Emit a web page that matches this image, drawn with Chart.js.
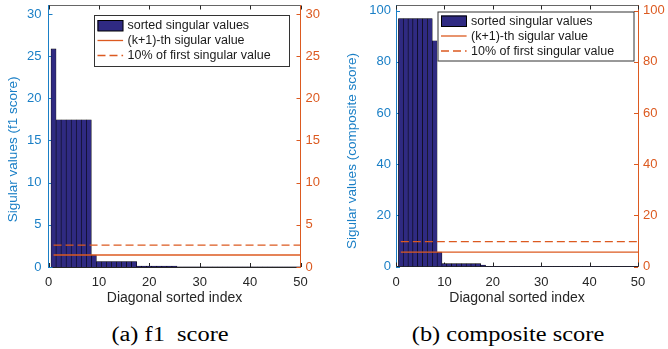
<!DOCTYPE html>
<html>
<head>
<meta charset="utf-8">
<script src="https://cdn.jsdelivr.net/npm/chart.js@4.4.0/dist/chart.umd.min.js"></script>
<style>
body { margin: 0; background: #fff; width: 668px; height: 349px; position: relative; overflow: hidden; }
.panel { position: absolute; top: 0; width: 334px; height: 310px; }
.caption { position: absolute; top: 324px; font-family: "Liberation Serif", "Times New Roman", serif; font-size: 20px; line-height: 20px; color: #000; white-space: pre; transform: translateX(-50%) scaleX(1.22); }
</style>
</head>
<body>
<div class="panel" style="left:0"><canvas id="chartA"></canvas></div>
<div class="panel" style="left:334px"><canvas id="chartB"></canvas></div>
<div class="caption" style="left:170px">(a) f1  score</div>
<div class="caption" style="left:508px">(b) composite score</div>
<script>
// diagonal index 1..50
var sortedIndex = [];
for (var i = 1; i <= 50; i++) sortedIndex.push(i);

var f1Singular = [25.86, 17.45, 17.45, 17.45, 17.45, 17.45, 17.45, 17.45, 1.42,
    0.65, 0.65, 0.65, 0.65, 0.65, 0.65, 0.65, 0.65,
    0.1, 0.1, 0.1, 0.1, 0.1, 0.1, 0.1, 0.1,
    0.01, 0.01, 0.01, 0.01, 0.01, 0.01, 0.01, 0.01, 0.01, 0.01,
    0.01, 0.01, 0.01, 0.01, 0.01, 0.01, 0.01, 0.01, 0.01, 0.01,
    0.01, 0.01, 0.01, 0.01, 0.01];
var f1KPlusOne = 1.42;
var f1TenPercent = 2.59;

var compositeSingular = [96.9, 96.9, 96.9, 96.9, 96.9, 96.9, 96.9, 88.2, 5.6,
    1.1, 1.1, 1.1, 1.1, 1.1, 1.1, 1.1, 1.1, 0.6,
    0.05, 0.05, 0.05, 0.05, 0.05, 0.05, 0.05, 0.05, 0.05, 0.05,
    0.05, 0.05, 0.05, 0.05, 0.05, 0.05, 0.05, 0.05, 0.05, 0.05,
    0.05, 0.05, 0.05, 0.05, 0.05, 0.05, 0.05, 0.05, 0.05, 0.05,
    0.05, 0.05];
var compositeKPlusOne = 5.6;
var compositeTenPercent = 9.69;

var legendLabels = ['sorted singular values', '(k+1)-th sigular value', '10% of first singular value'];

var blue = '#1a7fc6';
var orange = '#dc5a20';
var barFill = '#2f2a82';
var axisDark = '#262626';

Chart.defaults.font.family = '"Liberation Sans", Arial, sans-serif';

// matlab style ticks pointing into the axes
var innerTicks = {
    id: 'innerTicks',
    beforeDatasetsDraw: function(chart) {
        var ctx = chart.ctx, a = chart.chartArea, len = 4;
        ctx.save();
        ctx.lineWidth = 1;
        function seg(x1, y1, x2, y2) { ctx.beginPath(); ctx.moveTo(x1, y1); ctx.lineTo(x2, y2); ctx.stroke(); }
        var sx = chart.scales.x;
        ctx.strokeStyle = axisDark;
        sx.ticks.forEach(function(t) {
            var px = Math.round(sx.getPixelForValue(t.value)) + 0.5;
            seg(px, a.bottom, px, a.bottom - len);
            seg(px, a.top, px, a.top + len);
        });
        var sy = chart.scales.y;
        ctx.strokeStyle = blue;
        sy.ticks.forEach(function(t) {
            var py = Math.round(sy.getPixelForValue(t.value)) + 0.5;
            seg(a.left, py, a.left + len, py);
        });
        var sy2 = chart.scales.y2;
        ctx.strokeStyle = orange;
        sy2.ticks.forEach(function(t) {
            var py = Math.round(sy2.getPixelForValue(t.value)) + 0.5;
            seg(a.right, py, a.right - len, py);
        });
        ctx.restore();
    }
};

// legend box inside the axes, top right
var boxLegend = {
    id: 'boxLegend',
    afterDraw: function(chart, args, opts) {
        var ctx = chart.ctx;
        ctx.save();
        ctx.fillStyle = '#fff';
        ctx.fillRect(opts.x, opts.y, opts.w, opts.h);
        ctx.strokeStyle = '#333';
        ctx.lineWidth = 1;
        ctx.strokeRect(opts.x + 0.5, opts.y + 0.5, opts.w, opts.h);
        ctx.font = '12.5px "Liberation Sans", Arial, sans-serif';
        ctx.textBaseline = 'middle';
        chart.data.datasets.forEach(function(ds, i) {
            var cy = opts.y + opts.rowTop + i * opts.rowGap;
            var sx = opts.x + 3.5;
            if (ds.type === 'bar') {
                ctx.fillStyle = ds.backgroundColor;
                ctx.fillRect(sx, cy - 5.5, 25.6, 11);
                ctx.strokeStyle = '#000';
                ctx.strokeRect(sx + 0.5, cy - 5, 25, 10.5);
            } else {
                ctx.strokeStyle = ds.borderColor;
                ctx.lineWidth = ds.borderWidth;
                ctx.setLineDash(ds.borderDash || []);
                ctx.beginPath();
                ctx.moveTo(sx, cy);
                ctx.lineTo(sx + 25.6, cy);
                ctx.stroke();
                ctx.setLineDash([]);
            }
            ctx.fillStyle = '#1a1a1a';
            ctx.fillText(ds.label, sx + 30, cy + 0.5);
        });
        ctx.restore();
    }
};

function buildChart(id, values, kLine, tenLine, yMax, yStep, yTitle, g) {
    var bars = sortedIndex.map(function(x, i) { return {x: x, y: values[i]}; });
    var first = sortedIndex[0], last = sortedIndex[sortedIndex.length - 1];
    var tickFont = {size: 13};
    return new Chart(document.getElementById(id), {
        type: 'bar',
        data: {
            datasets: [
                {
                    type: 'bar', label: legendLabels[0], data: bars,
                    backgroundColor: barFill, borderColor: '#000', borderWidth: 0.6,
                    barPercentage: 1, categoryPercentage: 1, order: 2
                },
                {
                    type: 'line', label: legendLabels[1],
                    data: [{x: first, y: kLine}, {x: last, y: kLine}],
                    borderColor: orange, borderWidth: 1.3, pointRadius: 0, yAxisID: 'y2', order: 1
                },
                {
                    type: 'line', label: legendLabels[2],
                    data: [{x: first, y: tenLine}, {x: last, y: tenLine}],
                    borderColor: orange, borderWidth: 1.3, borderDash: [8, 4], pointRadius: 0, yAxisID: 'y2', order: 1
                }
            ]
        },
        options: {
            responsive: true,
            maintainAspectRatio: false,
            animation: false,
            devicePixelRatio: 1,
            layout: {padding: 0},
            plugins: {
                legend: {display: false},
                tooltip: {enabled: false},
                boxLegend: g.legend
            },
            scales: {
                x: {
                    type: 'linear', min: 0, max: 50, offset: false, position: 'bottom',
                    ticks: {stepSize: 10, color: axisDark, font: tickFont, padding: 8, maxRotation: 0},
                    grid: {display: false, drawTicks: false},
                    border: {display: true, color: axisDark, width: 1},
                    title: {display: true, text: 'Diagonal sorted index', color: axisDark, font: {size: 14}, padding: {top: 0, bottom: 3}},
                    afterFit: function(s) { s.height = g.bottomH; s.paddingLeft = 0; s.paddingRight = 0; }
                },
                xTop: {
                    type: 'linear', min: 0, max: 50, position: 'top',
                    ticks: {display: false},
                    grid: {display: false, drawTicks: false},
                    border: {display: true, color: '#666', width: 1},
                    afterFit: function(s) { s.height = g.top; s.paddingLeft = 0; s.paddingRight = 0; }
                },
                y: {
                    type: 'linear', min: 0, max: yMax, position: 'left',
                    ticks: {stepSize: yStep, includeBounds: false, color: blue, font: tickFont, padding: g.yPad},
                    grid: {display: false, drawTicks: false},
                    border: {display: true, color: blue, width: 1},
                    title: {display: true, text: yTitle, color: blue, font: {size: 13.5}, padding: {top: g.titlePad, bottom: 0}},
                    afterFit: function(s) { s.width = g.left; s.paddingTop = 0; s.paddingBottom = 0; }
                },
                y2: {
                    type: 'linear', min: 0, max: yMax, position: 'right',
                    ticks: {stepSize: yStep, includeBounds: false, color: orange, font: tickFont, padding: g.y2Pad},
                    grid: {display: false, drawTicks: false},
                    border: {display: true, color: orange, width: 1},
                    afterFit: function(s) { s.width = g.right; s.paddingTop = 0; s.paddingBottom = 0; }
                }
            }
        },
        plugins: [innerTicks, boxLegend]
    });
}

// trailing spaces push the rotated titles a little lower, as in the figure
buildChart('chartA', f1Singular, f1KPlusOne, f1TenPercent, 31, 5, 'Sigular values (f1 score)       ', {
    left: 48.5, right: 33.5, top: 5.5, bottomH: 43, yPad: 7, y2Pad: 5, titlePad: 5.5,
    legend: {x: 94, y: 15, w: 195, h: 51, rowTop: 10.5, rowGap: 15}
});
buildChart('chartB', compositeSingular, compositeKPlusOne, compositeTenPercent, 102, 20, 'Sigular values (composite score)        ', {
    left: 62, right: 30, top: 5.5, bottomH: 43.5, yPad: 5, y2Pad: 5, titlePad: 10.5,
    legend: {x: 103.5, y: 11.5, w: 196, h: 49, rowTop: 9.5, rowGap: 15}
});
</script>
</body>
</html>
